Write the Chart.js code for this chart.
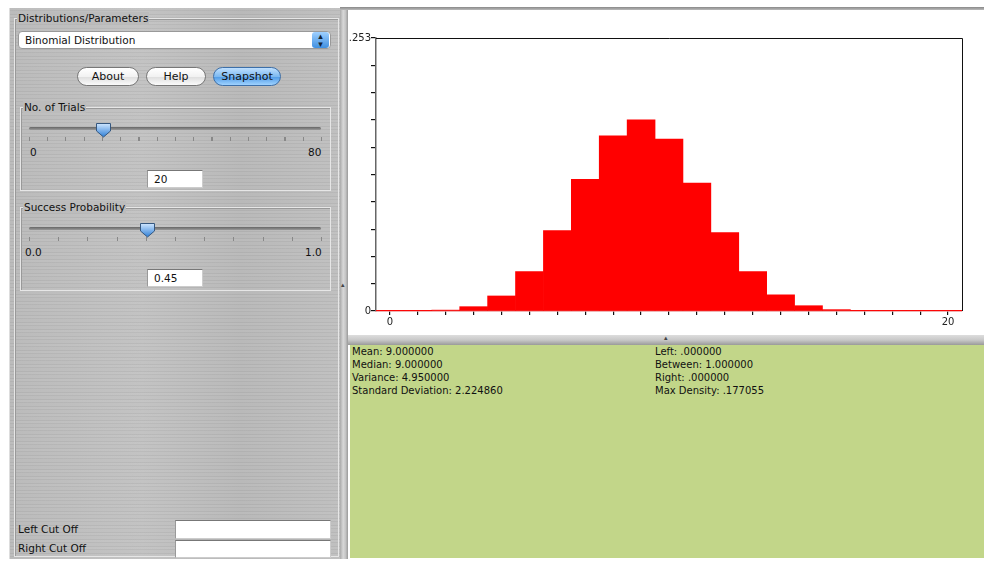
<!DOCTYPE html>
<html>
<head>
<meta charset="utf-8">
<script src="https://cdn.jsdelivr.net/npm/chart.js@4.4.0/dist/chart.umd.min.js"></script>
<style>
  body { margin: 0; width: 984px; height: 562px; overflow: hidden; position: relative; background: #fff;
         font-family: "DejaVu Sans", sans-serif; font-size: 10px; color: #111; }
  .abs { position: absolute; }
  .metal { background:
      repeating-linear-gradient(180deg, rgba(255,255,255,.06) 0 2px, rgba(0,0,0,.03) 2px 3px, rgba(255,255,255,.03) 3px 6px, rgba(0,0,0,.04) 6px 7px),
      linear-gradient(90deg, #b9b9b9, #c1c1c1 40%, #b7b7b7 70%, #bebebe); }
  .group { border: 1px solid #e6e6e6; box-shadow: inset 1px 1px 0 #999; }
  .glabel { position: absolute; top: -7px; left: 2px; padding: 0 1px; background: #bcbcbc; font-size: 10.5px; }
  .box { background: #fff; border: 1px solid #888; border-color: #777 #ccc #ccc #999; font-size: 10.5px; padding-left: 6px; box-sizing: border-box; line-height: 16px; }
  .btn { height: 19px; border-radius: 10px; border: 1px solid #777; box-sizing: border-box; text-align: center;
         line-height: 17px; font-size: 11px; background: linear-gradient(#fff, #f2f2f2 50%, #ddd 51%, #fafafa); }
  .btn.blue { background: linear-gradient(#bfe0ff, #7db9f0 50%, #4e9ae6 51%, #9fd2ff); border-color: #3d6fa8; }
  .track { height: 3px; border-radius: 2px; background: linear-gradient(#666, #999); }
  .ticks { height: 4px; }
  .stats div { height: 13px; line-height: 13px; white-space: nowrap; }
</style>
</head>
<body>

<!-- left control panel -->
<div class="abs metal" style="left:9px; top:8px; width:331px; height:551px; border-left:1px solid #ddd;"></div>
<div class="abs group" style="left:14px; top:18px; width:323px; height:537px;">
  <span class="glabel">Distributions/Parameters</span>
</div>
<div class="abs box" style="left:18px; top:31px; width:313px; height:18px; border-radius:4px; border-color:#999;">Binomial Distribution</div>
<div class="abs" style="left:312px; top:32px; width:17px; height:16px; border-radius:3px; background:linear-gradient(#9fd0ff,#3f8fe0); color:#123; font-size:9px; line-height:8px; text-align:center;">▴<br>▾</div>

<div class="abs btn" style="left:77px; top:67px; width:62px;">About</div>
<div class="abs btn" style="left:146px; top:67px; width:60px;">Help</div>
<div class="abs btn blue" style="left:213px; top:67px; width:68px;">Snapshot</div>

<div class="abs group" style="left:20px; top:107px; width:309px; height:82px;">
  <span class="glabel">No. of Trials</span>
</div>
<div class="abs track" style="left:29px; top:127px; width:292px;"></div>
<div class="abs ticks" style="left:29px; top:137px; width:294px; background:repeating-linear-gradient(90deg,#888 0 1px,transparent 1px 18.25px);"></div>
<svg class="abs" style="left:95px; top:122px;" width="17" height="16"><defs><linearGradient id="g1" x1="0" y1="0" x2="0" y2="1"><stop offset="0" stop-color="#cfe6ff"/><stop offset="1" stop-color="#2f7fd6"/></linearGradient></defs><path d="M1.5 1.5 H15.5 V9 L8.5 15 L1.5 9 Z" fill="url(#g1)" stroke="#35577f"/></svg>
<div class="abs" style="left:30px; top:146px; font-size:10.5px;">0</div>
<div class="abs" style="left:308px; top:146px; font-size:10.5px;">80</div>
<div class="abs box" style="left:147px; top:170px; width:56px; height:18px;">20</div>

<div class="abs group" style="left:20px; top:207px; width:309px; height:82px;">
  <span class="glabel">Success Probability</span>
</div>
<div class="abs track" style="left:29px; top:227px; width:292px;"></div>
<div class="abs ticks" style="left:29px; top:237px; width:294px; background:repeating-linear-gradient(90deg,#888 0 1px,transparent 1px 29.2px);"></div>
<svg class="abs" style="left:139px; top:222px;" width="17" height="16"><path d="M1.5 1.5 H15.5 V9 L8.5 15 L1.5 9 Z" fill="url(#g1)" stroke="#35577f"/></svg>
<div class="abs" style="left:25px; top:246px; font-size:10.5px;">0.0</div>
<div class="abs" style="left:305px; top:246px; font-size:10.5px;">1.0</div>
<div class="abs box" style="left:147px; top:269px; width:56px; height:18px;">0.45</div>

<div class="abs" style="left:18px; top:523px; font-size:10.5px;">Left Cut Off</div>
<div class="abs box" style="left:175px; top:520px; width:156px; height:19px;"></div>
<div class="abs" style="left:18px; top:542px; font-size:10.5px;">Right Cut Off</div>
<div class="abs box" style="left:175px; top:540px; width:156px; height:18px;"></div>

<!-- splitters -->
<div class="abs" style="left:340px; top:7px; width:644px; height:3px; background:linear-gradient(#888,#bbb);"></div>
<div class="abs" style="left:340px; top:10px; width:8px; height:549px; background:linear-gradient(90deg,#aaa,#d8d8d8 40%,#c4c4c4 70%,#999);"></div>
<div class="abs" style="left:341px; top:281px; font-size:7px; color:#444;">▴</div>
<div class="abs" style="left:348px; top:335px; width:636px; height:10px; background:linear-gradient(#ddd,#c8c8c8 50%,#9a9a9a);"></div>
<div class="abs" style="left:664px; top:334px; font-size:7px; color:#444;">▴</div>

<!-- stats panel -->
<div class="abs" style="left:350px; top:345px; width:634px; height:213px; background:#c2d689;"></div>
<div class="abs stats" style="left:352px; top:345px;">
  <div>Mean: 9.000000</div><div>Median: 9.000000</div><div>Variance: 4.950000</div><div>Standard Deviation: 2.224860</div>
</div>
<div class="abs stats" style="left:655px; top:345px;">
  <div>Left: .000000</div><div>Between: 1.000000</div><div>Right: .000000</div><div>Max Density: .177055</div>
</div>

<!-- chart -->
<div class="abs" style="left:348px; top:10px; width:636px; height:325px; background:#fff;">
  <canvas id="chart"></canvas>
</div>

<script>
const counts = ['0','1','2','3','4','5','6','7','8','9','10','11','12','13','14','15','16','17','18','19','20'];
const density = [0.0000064, 0.000105, 0.000816, 0.004006, 0.013930, 0.036471, 0.074600, 0.122072,
                 0.162300, 0.177055, 0.159350, 0.118524, 0.072731, 0.036620, 0.014981, 0.004903,
                 0.001254, 0.000241, 0.000033, 0.000003, 0.0000001];
const xLabels = ['0', '20'];
const yTickValues = [0, 0.0253, 0.0506, 0.0759, 0.1012, 0.1265, 0.1518, 0.1771, 0.2024, 0.2277, 0.253];
const yLabels = {0: '0', 0.253: '0.253'};

const frame = {
  id: 'frame',
  afterDraw(chart) {
    const {ctx, chartArea: a} = chart;
    ctx.save();
    ctx.strokeStyle = '#111';
    ctx.lineWidth = 1;
    ctx.beginPath();
    ctx.moveTo(a.left, a.top + 0.5);
    ctx.lineTo(a.right + 0.5, a.top + 0.5);
    ctx.lineTo(a.right + 0.5, a.bottom);
    ctx.stroke();
    ctx.restore();
  }
};

new Chart('chart', {
  type: 'bar',
  data: {
    labels: counts,
    datasets: [{
      data: density,
      backgroundColor: '#ff0000',
      borderWidth: 0,
      barPercentage: 1,
      categoryPercentage: 1
    }]
  },
  options: {
    responsive: true,
    maintainAspectRatio: false,
    animation: false,
    layout: {padding: {left: 0, top: 28, right: 22, bottom: 0}},
    plugins: {legend: {display: false}, tooltip: {enabled: false}},
    scales: {
      x: {
        offset: true,
        grid: {offset: false, drawOnChartArea: false, tickLength: 4, color: '#111', lineWidth: 1.2},
        border: {color: '#e06a6a', width: 1.5},
        ticks: {
          autoSkip: false, maxRotation: 0, padding: 1, color: '#222',
          font: {family: 'DejaVu Sans', size: 10},
          callback: (v, i) => xLabels.includes(counts[i]) ? counts[i] : ''
        },
        afterFit: s => { s.height = 24; }
      },
      y: {
        min: 0, max: 0.253,
        grid: {drawOnChartArea: false, tickLength: 5, color: '#111', lineWidth: 1.2},
        border: {color: '#666', width: 1.5},
        ticks: {
          padding: 0, color: '#222',
          font: {family: 'DejaVu Sans', size: 10},
          callback: v => yLabels[v] !== undefined ? yLabels[v] : ''
        },
        afterBuildTicks: s => { s.ticks = yTickValues.map(v => ({value: v})); },
        afterFit: s => { s.width = 28; }
      }
    }
  },
  plugins: [frame]
});
</script>
</body>
</html>
